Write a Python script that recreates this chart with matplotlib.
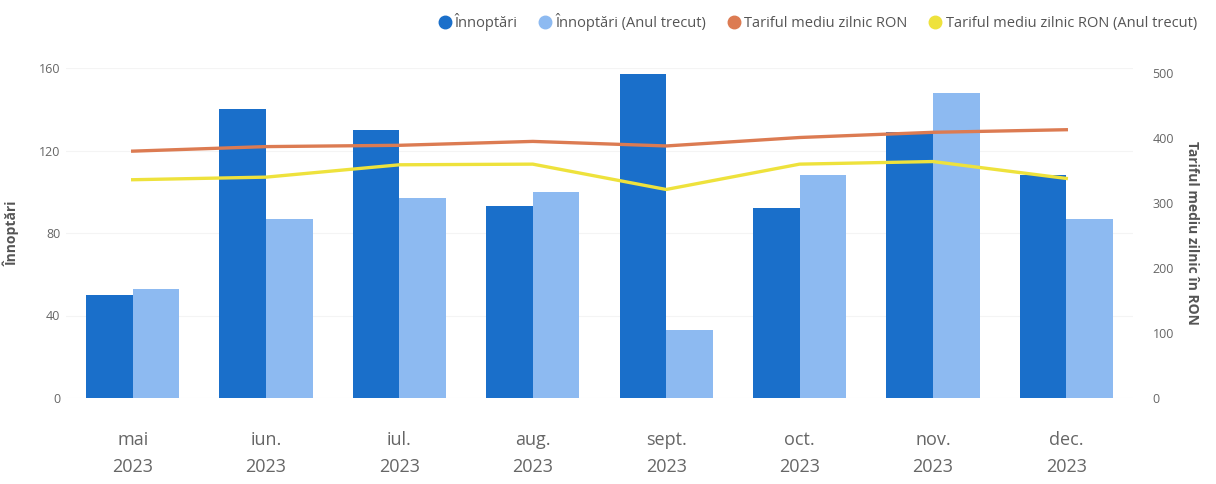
import matplotlib
matplotlib.use("Agg")
import matplotlib.pyplot as plt
from matplotlib.lines import Line2D
import numpy as np

plt.rcParams['font.family'] = ['Open Sans', 'DejaVu Sans']

categories = ["mai\n2023", "iun.\n2023", "iul.\n2023", "aug.\n2023",
              "sept.\n2023", "oct.\n2023", "nov.\n2023", "dec.\n2023"]
innoptari = [50, 140, 130, 93, 157, 92, 129, 108]
innoptari_prev = [53, 87, 97, 100, 33, 108, 148, 87]
tarif = [380, 387, 389, 395, 388, 401, 409, 413]
tarif_prev = [336, 340, 359, 360, 321, 360, 364, 338]

c_dark = "#1A6FCA"
c_light = "#8DBAF1"
c_orange = "#DC7B52"
c_yellow = "#EEE23C"
c_text = "#666666"

fig = plt.figure(figsize=(12.16, 4.84), dpi=100)
ax = fig.add_axes([66/1216, 86/484, 1067/1216, 330/484])
ax2 = ax.twinx()

x = np.arange(len(categories))
w = 0.35
ax.bar(x - w/2, innoptari, width=w, color=c_dark, zorder=2)
ax.bar(x + w/2, innoptari_prev, width=w, color=c_light, zorder=2)
ax2.plot(x, tarif, color=c_orange, lw=2.4, zorder=3)
ax2.plot(x, tarif_prev, color=c_yellow, lw=2.4, zorder=3)

ax.set_xlim(-0.5, len(categories) - 0.5)
ax.set_ylim(0, 160)
ax2.set_ylim(0, 508)
ax.set_yticks([0, 40, 80, 120, 160])
ax2.set_yticks([0, 100, 200, 300, 400, 500])
ax.set_xticks(x)
ax.set_xticklabels(categories, fontsize=13, color="#666666", linespacing=1.6)
ax.yaxis.grid(True, color="#f4f4f4", lw=0.8, zorder=0)
ax.set_axisbelow(True)

for a in (ax, ax2):
    for s in a.spines.values():
        s.set_visible(False)
    a.tick_params(length=0, colors=c_text, labelsize=9)
ax.tick_params(axis='x', pad=24, labelsize=13, labelcolor="#666666")
ax.tick_params(axis='y', pad=4)
ax2.tick_params(axis='y', pad=14)

ax.set_ylabel("Înnoptări", fontsize=10, fontweight='bold', color="#555555", labelpad=14)
ax2.set_ylabel("Tariful mediu zilnic în RON", fontsize=10, fontweight='bold',
               color="#555555", rotation=-90, labelpad=18)

handles = [Line2D([], [], marker='o', ls='', color=c, markersize=9)
           for c in (c_dark, c_light, c_orange, c_yellow)]
labels = ["Înnoptări", "Înnoptări (Anul trecut)", "Tariful mediu zilnic RON",
          "Tariful mediu zilnic RON (Anul trecut)"]
fig.legend(handles, labels, loc='center right', bbox_to_anchor=(1210/1216, 1 - 22/484),
           ncol=4, frameon=False, fontsize=10.5, labelcolor="#555555",
           handletextpad=0.1, columnspacing=1.3, handlelength=1.2)

fig.savefig("out.png", dpi=100, facecolor="white")
